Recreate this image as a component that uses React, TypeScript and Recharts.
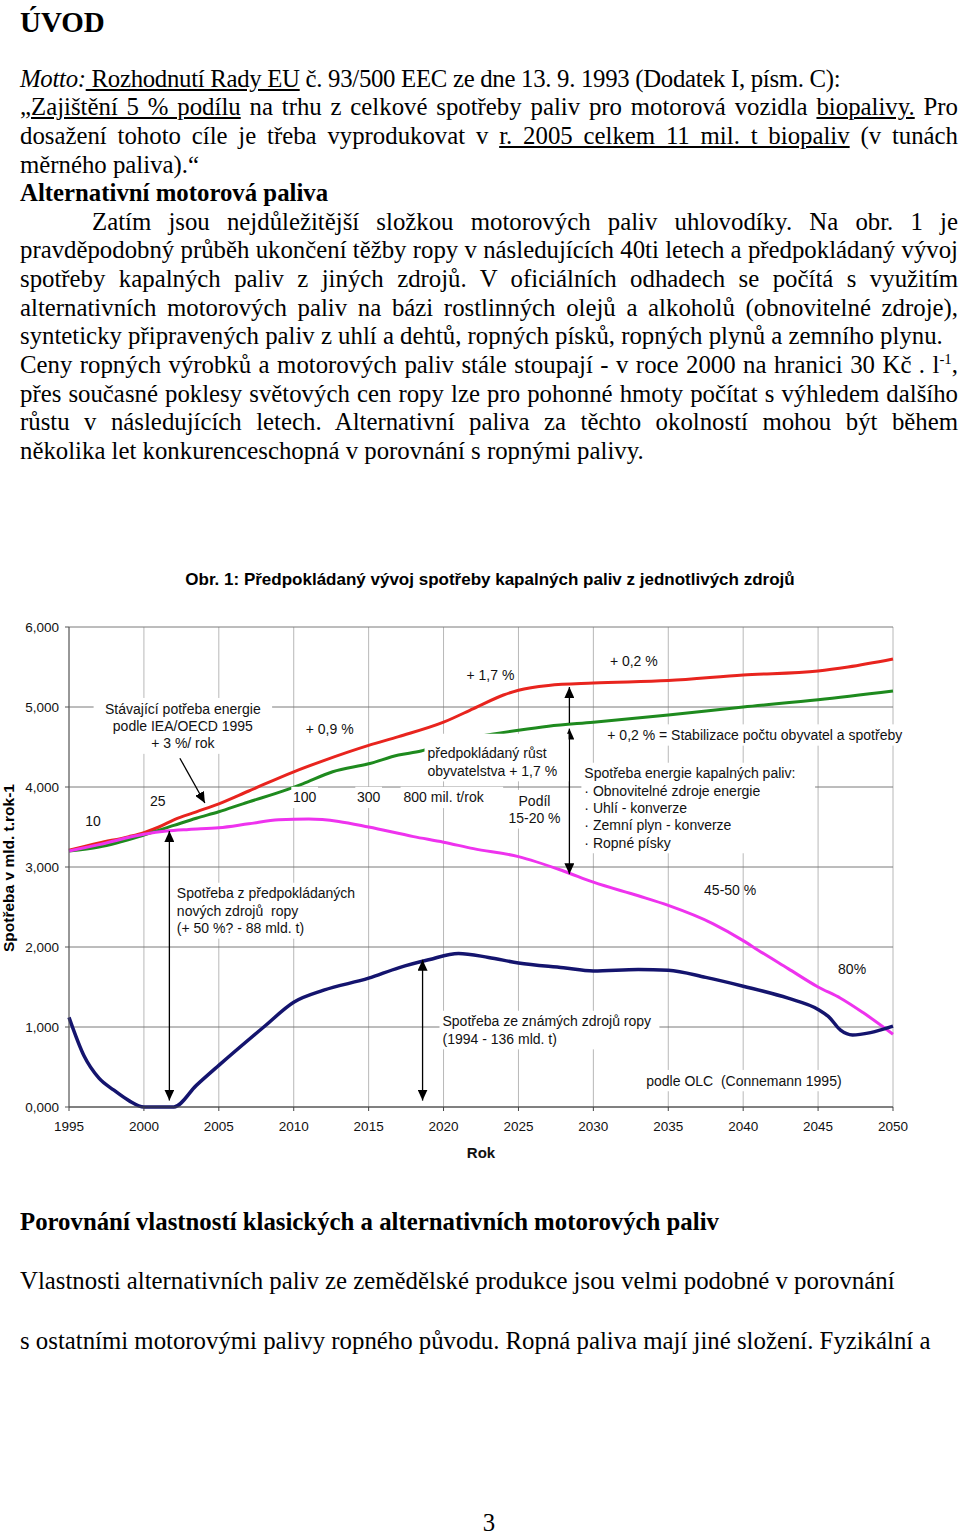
import React from "react"
import {
  CartesianGrid,
  Line,
  LineChart,
  ReferenceDot,
  ReferenceLine,
  XAxis,
  YAxis,
} from "recharts"

// stránka se kreslí v souřadnicích celé stránky
document.body.style.margin = "0"

// Hodnoty odečtené z obr. 1 (mld. t za rok)
const xTicks = [1995, 2000, 2005, 2010, 2015, 2020, 2025, 2030, 2035, 2040, 2045, 2050]
const yTicks = [0, 1, 2, 3, 4, 5, 6]

// Stávající potřeba energie (+3 %/rok, pak +1,7 % a +0,2 %)
const demandYears = [1995, 1997, 1999, 2000, 2001, 2002, 2003.5, 2005, 2007, 2010, 2012, 2015, 2017, 2020, 2022, 2024, 2025, 2027, 2030, 2035, 2040, 2045, 2047, 2050]
const demandValues = [3.21, 3.3, 3.38, 3.43, 3.5, 3.59, 3.69, 3.79, 3.95, 4.19, 4.33, 4.52, 4.63, 4.81, 4.98, 5.15, 5.21, 5.27, 5.3, 5.33, 5.4, 5.45, 5.5, 5.6]

// Předpokládaný růst obyvatelstva
const popYears = [1995, 1997, 2000, 2002, 2003.5, 2005, 2006.6, 2009.6, 2010.6, 2012.6, 2015, 2017, 2018.5, 2020, 2022.3, 2025, 2027, 2030, 2035, 2040, 2045, 2050]
const popValues = [3.2, 3.25, 3.4, 3.52, 3.61, 3.69, 3.79, 3.97, 4.04, 4.19, 4.29, 4.4, 4.45, 4.54, 4.63, 4.71, 4.76, 4.81, 4.9, 5.0, 5.09, 5.2]

// Spotřeba z předpokládaných nových zdrojů ropy
const newYears = [1995, 1997, 2000, 2001.5, 2003, 2005, 2007, 2009, 2011, 2013, 2015, 2018, 2020, 2022, 2025, 2028, 2030, 2033, 2035, 2038, 2040, 2041, 2043, 2045, 2046.5, 2048, 2050]
const newValues = [3.2, 3.28, 3.41, 3.45, 3.47, 3.49, 3.54, 3.59, 3.6, 3.57, 3.5, 3.38, 3.31, 3.23, 3.13, 2.95, 2.81, 2.64, 2.52, 2.29, 2.08, 1.96, 1.73, 1.5, 1.36, 1.18, 0.91]

// Spotřeba ze známých zdrojů ropy
const knownYears = [1995, 1996, 1997, 1998, 1999, 2000, 2002, 2003.5, 2005, 2008, 2010, 2012, 2015, 2017, 2019, 2021, 2023, 2025, 2028, 2030, 2033, 2035, 2037.5, 2040, 2043, 2045, 2045.7, 2046.5, 2047.3, 2048.5, 2050]
const knownValues = [1.12, 0.64, 0.36, 0.21, 0.08, 0, 0, 0.27, 0.52, 1.0, 1.31, 1.46, 1.61, 1.74, 1.84, 1.92, 1.87, 1.8, 1.74, 1.7, 1.72, 1.71, 1.62, 1.51, 1.36, 1.22, 1.13, 0.96, 0.9, 0.93, 1.01]

const toRows = (years: number[], values: number[]) =>
  years.map((year, i) => ({ year, v: values[i] }))

const series = [
  { name: "demand", rows: toRows(demandYears, demandValues), color: "#e8241e", width: 3 },
  { name: "pop", rows: toRows(popYears, popValues), color: "#1e8a1e", width: 3 },
  { name: "new", rows: toRows(newYears, newValues), color: "#ee33ee", width: 3 },
  { name: "known", rows: toRows(knownYears, knownValues), color: "#14146e", width: 3.5 },
]

type Note = { x: number; y: number; lines: string[]; anchor: "start" | "middle"; box?: boolean; padTop?: number }

const notes: Note[] = [
  { x: 2002.6, y: 4.98, anchor: "middle", box: true, lines: ["Stávající potřeba energie", "podle IEA/OECD 1995", "+ 3 %/ rok"] },
  { x: 2012.4, y: 4.73, anchor: "middle", box: true, lines: ["+ 0,9 %"] },
  { x: 2023.13, y: 5.4, anchor: "middle", lines: ["+ 1,7 %"] },
  { x: 2032.7, y: 5.57, anchor: "middle", lines: ["+ 0,2 %"] },
  { x: 2018.93, y: 4.42, anchor: "start", box: true, padTop: 9, lines: ["předpokládaný růst", "obyvatelstva + 1,7 %"] },
  { x: 2030.93, y: 4.65, anchor: "start", box: true, lines: ["+ 0,2 % = Stabilizace počtu obyvatel a spotřeby"] },
  { x: 1996.6, y: 3.58, anchor: "middle", lines: ["10"] },
  { x: 2000.93, y: 3.83, anchor: "middle", lines: ["25"] },
  { x: 2010.73, y: 3.87, anchor: "middle", box: true, lines: ["100"] },
  { x: 2015.0, y: 3.87, anchor: "middle", box: true, lines: ["300"] },
  { x: 2017.33, y: 3.87, anchor: "start", box: true, lines: ["800 mil. t/rok"] },
  { x: 2026.07, y: 3.83, anchor: "middle", box: true, lines: ["Podíl", "15-20 %"] },
  { x: 2029.4, y: 4.17, anchor: "start", box: true, lines: ["Spotřeba energie kapalných paliv:", "· Obnovitelné zdroje energie", "· Uhlí - konverze", "· Zemní plyn - konverze", "· Ropné písky"] },
  { x: 2002.2, y: 2.67, anchor: "start", box: true, lines: ["Spotřeba z předpokládaných", "nových zdrojů  ropy", "(+ 50 %? - 88 mld. t)"] },
  { x: 2019.93, y: 1.07, anchor: "start", box: true, lines: ["Spotřeba ze známých zdrojů ropy", "(1994 - 136 mld. t)"] },
  { x: 2039.13, y: 2.71, anchor: "middle", lines: ["45-50 %"] },
  { x: 2047.27, y: 1.72, anchor: "middle", lines: ["80%"] },
  { x: 2033.53, y: 0.33, anchor: "start", box: true, lines: ["podle OLC  (Connemann 1995)"] },
]

// šipky: [rok, hodnota] -> [rok, hodnota], both = hrot na obou koncích
const arrows = [
  { from: [2002.4, 4.36], to: [2004.07, 3.8], both: false },
  { from: [2001.7, 3.45], to: [2001.7, 0.08], both: true },
  { from: [2018.6, 1.84], to: [2018.6, 0.08], both: true },
  { from: [2028.4, 4.8], to: [2028.4, 5.25], both: false },
  { from: [2028.4, 4.73], to: [2028.4, 2.91], both: true },
]

const LINE_H = 17.3

function NoteMark(props: any) {
  const { cx, cy, note } = props
  const pad = note.padTop ?? 0
  const w = Math.max(...note.lines.map((l: string) => l.length)) * 6.9 + 6
  const h = note.lines.length * LINE_H + 4 + pad
  const left = note.anchor === "middle" ? cx - w / 2 : cx - 3
  return (
    <g>
      {note.box && <rect x={left} y={cy - LINE_H / 2 - 2 - pad} width={w} height={h} fill="#fff" />}
      <text textAnchor={note.anchor} fontSize={14} fill="#111" style={{ whiteSpace: "pre" }}>
        {note.lines.map((l: string, i: number) => (
          <tspan key={i} x={cx} y={cy + i * LINE_H} dy="0.35em">
            {l}
          </tspan>
        ))}
      </text>
    </g>
  )
}

const fmt = (v: number) => v.toFixed(3).replace(".", ",")

function Chart() {
  return (
    <LineChart
      width={940}
      height={580}
      margin={{ top: 27, right: 47, left: 9, bottom: 13 }}
      style={{ fontFamily: "'Liberation Sans', Arial, sans-serif" }}
    >
      <defs>
        <marker
          id="ah"
          viewBox="0 0 11 10"
          refX={11}
          refY={5}
          markerWidth={11}
          markerHeight={10}
          markerUnits="userSpaceOnUse"
          orient="auto-start-reverse"
        >
          <path d="M0,0 L11,5 L0,10 z" fill="#000" />
        </marker>
      </defs>
      <CartesianGrid horizontal={false} stroke="#b8b8b8" />
      <CartesianGrid vertical={false} stroke="#7a7a7a" />
      <XAxis
        dataKey="year"
        type="number"
        domain={[1995, 2050]}
        ticks={xTicks}
        height={60}
        tickSize={4}
        tickMargin={10}
        stroke="#444"
        tick={{ fill: "#111", fontSize: 13.5 }}
        label={{ value: "Rok", position: "insideBottom", offset: 9, fill: "#111", fontSize: 15, fontWeight: "bold" }}
      />
      <YAxis
        type="number"
        domain={[0, 6]}
        ticks={yTicks}
        width={60}
        tickSize={4}
        tickMargin={6}
        stroke="#555"
        tickFormatter={fmt}
        tick={{ fill: "#111", fontSize: 13.5 }}
      />
      {series.map((s) => (
        <Line
          key={s.name}
          data={s.rows}
          dataKey="v"
          type="monotone"
          stroke={s.color}
          strokeWidth={s.width}
          dot={false}
          activeDot={false}
          isAnimationActive={false}
        />
      ))}
      {notes.map((n, i) => (
        <ReferenceDot
          key={"n" + i}
          x={n.x}
          y={n.y}
          r={0}
          shape={(p: any) => <NoteMark {...p} note={n} />}
        />
      ))}
      {arrows.map((a, i) => (
        <ReferenceLine
          key={"a" + i}
          segment={[
            { x: a.from[0], y: a.from[1] },
            { x: a.to[0], y: a.to[1] },
          ]}
          stroke="#000"
          strokeWidth={1.3}
          markerEnd="url(#ah)"
          markerStart={a.both ? "url(#ah)" : undefined}
        />
      ))}
    </LineChart>
  )
}

const serif = "'Liberation Serif', 'Times New Roman', serif"
const sans = "'Liberation Sans', Arial, sans-serif"
const LH = 28.63
const FS = 24.8
const full: React.CSSProperties = { textAlign: "justify", textAlignLast: "justify" }

export default function App() {
  const top = (center: number) => center - LH / 2
  return (
    <div style={{ position: "relative", width: 960, height: 1538, fontFamily: serif, color: "#000", overflow: "hidden" }}>
      <div style={{ position: "absolute", left: 20, top: 5, fontSize: 29, fontWeight: "bold", lineHeight: "34px" }}>
        ÚVOD
      </div>
      <div style={{ position: "absolute", left: 20, top: top(79), width: 938, fontSize: FS, lineHeight: LH + "px" }}>
        <div style={{ whiteSpace: "nowrap", letterSpacing: -0.3 }}>
          <i>Motto:</i>
          <u> Rozhodnutí Rady EU</u> č. 93/500 EEC ze dne 13. 9. 1993 (Dodatek I, písm. C):
        </div>
        <div style={full}>
          „<u>Zajištění 5 % podílu</u> na trhu z celkové spotřeby paliv pro motorová vozidla <u>biopalivy.</u> Pro
        </div>
        <div style={full}>
          dosažení tohoto cíle je třeba vyprodukovat v <u>r. 2005 celkem 11 mil. t biopaliv</u> (v tunách
        </div>
        <div>měrného paliva).“</div>
        <div style={{ fontWeight: "bold" }}>Alternativní motorová paliva</div>
        <div style={{ ...full, textIndent: 72 }}>
          Zatím jsou nejdůležitější složkou motorových paliv uhlovodíky. Na obr. 1 je
        </div>
        <div style={full}>
          pravděpodobný průběh ukončení těžby ropy v následujících 40ti letech a předpokládaný vývoj
        </div>
        <div style={full}>
          spotřeby kapalných paliv z jiných zdrojů. V oficiálních odhadech se počítá s využitím
        </div>
        <div style={full}>
          alternativních motorových paliv na bázi rostlinných olejů a alkoholů (obnovitelné zdroje),
        </div>
        <div style={{ whiteSpace: "nowrap" }}>
          synteticky připravených paliv z uhlí a dehtů, ropných písků, ropných plynů a zemního plynu.
        </div>
        <div style={full}>
          Ceny ropných výrobků a motorových paliv stále stoupají - v roce 2000 na hranici 30 Kč . l
          <sup style={{ fontSize: "0.6em", lineHeight: 0 }}>-1</sup>,
        </div>
        <div style={full}>
          přes současné poklesy světových cen ropy lze pro pohonné hmoty počítat s výhledem dalšího
        </div>
        <div style={full}>
          růstu v následujících letech. Alternativní paliva za těchto okolností mohou být během
        </div>
        <div>několika let konkurenceschopná v porovnání s ropnými palivy.</div>
      </div>

      <div
        style={{
          position: "absolute",
          left: 20,
          top: 570,
          width: 940,
          textAlign: "center",
          fontFamily: sans,
          fontWeight: "bold",
          fontSize: 17,
          lineHeight: "20px",
        }}
      >
        Obr. 1: Předpokládaný vývoj spotřeby kapalných paliv z jednotlivých zdrojů
      </div>
      <div style={{ position: "absolute", left: 0, top: 600 }}>
        <Chart />
      </div>
      <div
        style={{
          position: "absolute",
          left: 9 - 100,
          top: 868 - 10,
          width: 200,
          height: 20,
          lineHeight: "20px",
          textAlign: "center",
          transform: "rotate(-90deg)",
          fontFamily: sans,
          fontWeight: "bold",
          fontSize: 15.5,
          whiteSpace: "nowrap",
        }}
      >
        Spotřeba v mld. t.rok-1
      </div>

      <div style={{ position: "absolute", left: 20, top: top(1222), fontSize: FS, fontWeight: "bold", lineHeight: LH + "px", whiteSpace: "nowrap" }}>
        Porovnání vlastností klasických a alternativních motorových paliv
      </div>
      <div style={{ position: "absolute", left: 20, top: top(1281), fontSize: FS, lineHeight: LH + "px", whiteSpace: "nowrap" }}>
        Vlastnosti alternativních paliv ze zemědělské produkce jsou velmi podobné v porovnání
      </div>
      <div style={{ position: "absolute", left: 20, top: top(1341), fontSize: FS, lineHeight: LH + "px", whiteSpace: "nowrap" }}>
        s ostatními motorovými palivy ropného původu. Ropná paliva mají jiné složení. Fyzikální a
      </div>
      <div style={{ position: "absolute", left: 469, top: 1508, width: 40, textAlign: "center", fontSize: FS, lineHeight: "29px" }}>
        3
      </div>
    </div>
  )
}
